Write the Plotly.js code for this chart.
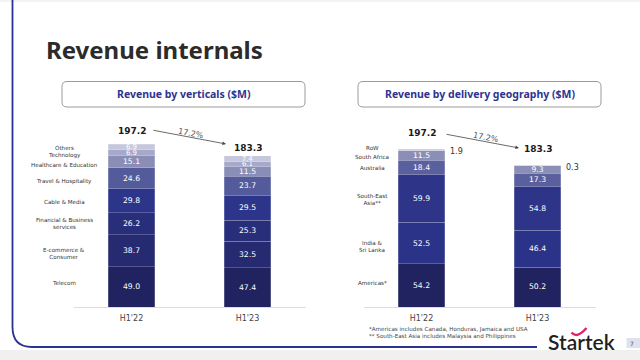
<!DOCTYPE html>
<html><head><meta charset="utf-8">
<script src="https://cdn.plot.ly/plotly-3.0.1.min.js"></script>
<style>html,body{margin:0;padding:0;background:#fff}#chart{width:640px;height:360px}</style>
</head><body><div id="chart"></div>
<script>
// ---- data ----
const categories = ["H1'22", "H1'23"];

const verticalNames = ["Telecom", "E-commerce &<br>Consumer", "Financial & Business<br>services", "Cable & Media", "Travel & Hospitality", "Healthcare & Education", "Technology", "Others"];
const telecom = [49.0, 47.4];
const ecommerce = [38.7, 32.5];
const financial = [26.2, 25.3];
const cableMedia = [29.8, 29.5];
const travel = [24.6, 23.7];
const healthcare = [15.1, 11.5];
const technology = [6.9, 6.1];
const others = [6.9, 7.4];
const verticalTotals = [197.2, 183.3];

const geoNames = ["Americas*", "India &<br>Sri Lanka", "South-East<br>Asia**", "Australia", "South Africa", "RoW"];
const americas = [54.2, 50.2];
const indiaSriLanka = [52.5, 46.4];
const southEastAsia = [59.9, 54.8];
const australia = [18.4, 17.3];
const southAfrica = [11.5, 9.3];
const row = [1.9, 0.3];
const geoTotals = [197.2, 183.3];

const changeLabel = "17.2%";

// ---- styling ----
const W = 640, H = 360;
const px = x => x / W, py = y => 1 - y / H;
const vertColors = ["#20235f", "#262a70", "#292e7b", "#2d358b", "#545b9b", "#8a8db6", "#a6a9c9", "#c5c7dc"];
const geoColors = ["#20235f", "#2b3389", "#2e3588", "#5a5f9e", "#8b8fb5", "#c5c7dc"];
const lblFont = {family: "DejaVu Sans", size: 5.6, color: "#333"};

const vertSeries = [telecom, ecommerce, financial, cableMedia, travel, healthcare, technology, others];
const geoSeries = [americas, indiaSriLanka, southEastAsia, australia, southAfrica, row];

const traces = [];
vertSeries.forEach((s, i) => traces.push({
  type: "bar", x: categories, y: s, xaxis: "x", yaxis: "y",
  marker: {color: vertColors[i], line: {width: 0.6, color: "rgba(255,255,255,0.35)"}},
  text: s.map(v => v.toFixed(1)), textposition: "inside", insidetextanchor: "middle",
  textangle: 0, textfont: {family: "DejaVu Sans", size: i >= 6 ? 7 : 8, color: "#ffffff"}, hoverinfo: "skip"
}));
geoSeries.forEach((s, i) => {
  const isRow = i === geoSeries.length - 1;
  traces.push({
    type: "bar", x: categories, y: s, xaxis: "x2", yaxis: "y2",
    marker: {color: geoColors[i], line: {width: 0.6, color: "rgba(255,255,255,0.35)"}},
    text: isRow ? s.map(() => "") : s.map(v => v.toFixed(1)), textposition: "inside", insidetextanchor: "middle",
    textangle: 0, textfont: {family: "DejaVu Sans", size: 8, color: "#ffffff"}, hoverinfo: "skip"
  });
});

const ann = [];
// title
ann.push({text: "<b>Revenue internals</b>", xref: "paper", yref: "paper", x: px(44), y: py(50), xanchor: "left", yanchor: "middle",
  showarrow: false, font: {family: "Noto Sans", size: 24, color: "#2b2b2b"}});
ann.push({text: "<b>Revenue by verticals ($M)</b>", xref: "paper", yref: "paper", x: px(184), y: py(94), xanchor: "center", yanchor: "middle",
  showarrow: false, font: {family: "Noto Sans", size: 10.5, color: "#2d3491"}});
ann.push({text: "<b>Revenue by delivery geography ($M)</b>", xref: "paper", yref: "paper", x: px(480), y: py(94), xanchor: "center", yanchor: "middle",
  showarrow: false, font: {family: "Noto Sans", size: 10.5, color: "#2d3491"}});

// segment name labels (at H1'22 segment centres)
function nameLabels(series, names, yref, xpx, shifts) {
  let cum = 0;
  series.forEach((s, i) => {
    const mid = cum + s[0] / 2; cum += s[0];
    ann.push({text: names[i], xref: "paper", yref: yref, x: px(xpx), y: mid, yshift: shifts[i] || 0,
      xanchor: "center", yanchor: "middle", showarrow: false, font: lblFont});
  });
}
nameLabels(vertSeries, verticalNames, "y", 64, [4, -3, 0, -1, -3, -3, -3, -1]);
nameLabels(geoSeries, geoNames, "y2", 372, [2, -3, -1, -1, -1, 2]);

// totals
const totFont = {family: "DejaVu Sans", size: 9, color: "#1a1a1a"};
ann.push({text: "<b>" + verticalTotals[0].toFixed(1) + "</b>", xref: "x", yref: "y", x: categories[0], y: verticalTotals[0], yanchor: "bottom", yshift: 6, showarrow: false, font: totFont});
ann.push({text: "<b>" + verticalTotals[1].toFixed(1) + "</b>", xref: "x", yref: "y", x: categories[1], y: verticalTotals[1], yanchor: "bottom", yshift: 1, showarrow: false, font: totFont});
ann.push({text: "<b>" + geoTotals[0].toFixed(1) + "</b>", xref: "x2", yref: "y2", x: categories[0], y: geoTotals[0], yanchor: "bottom", yshift: 10, showarrow: false, font: totFont});
ann.push({text: "<b>" + geoTotals[1].toFixed(1) + "</b>", xref: "x2", yref: "y2", x: categories[1], y: geoTotals[1], yanchor: "bottom", yshift: 5, showarrow: false, font: totFont});

// RoW outside labels
const geoSum = k => geoSeries.reduce((a, s) => a + s[k], 0);
[0, 1].forEach(k => ann.push({text: row[k].toFixed(1), xref: "x2", yref: "y2", x: categories[k], y: geoSum(k), xanchor: "left", yanchor: "middle",
  xshift: 26, yshift: -2, showarrow: false, font: {family: "DejaVu Sans", size: 8, color: "#333"}}));

// change arrows
[[226, 144, 152, 130, 191, 133], [519, 148, 445, 134, 486, 137]].forEach(a => {
  ann.push({xref: "paper", yref: "paper", x: px(a[0]), y: py(a[1]), ax: a[2] - a[0], ay: a[3] - a[1], axref: "pixel", ayref: "pixel",
    text: "", showarrow: true, arrowhead: 2, arrowsize: 0.9, arrowwidth: 0.8, arrowcolor: "#444"});
  ann.push({xref: "paper", yref: "paper", x: px(a[4]), y: py(a[5]), text: changeLabel, textangle: 11, showarrow: false,
    xanchor: "center", yanchor: "middle", font: {family: "DejaVu Sans", size: 8, color: "#555"}});
});

// footnotes
ann.push({text: "*Americas includes Canada, Honduras, Jamaica and USA<br>** South-East Asia includes Malaysia and Philippines", xref: "paper", yref: "paper",
  x: px(367), y: py(333), xanchor: "left", yanchor: "middle", align: "left", showarrow: false, font: {family: "DejaVu Sans", size: 5.6, color: "#444"}});
// logo
ann.push({text: "Startek", xref: "paper", yref: "paper", x: px(581), y: py(341), xanchor: "center", yanchor: "middle",
  showarrow: false, font: {family: "Lato", size: 21, color: "#1f1f1f", weight: 600}});
ann.push({text: "7", xref: "paper", yref: "paper", x: px(632), y: py(343), xanchor: "center", yanchor: "middle",
  showarrow: false, font: {family: "DejaVu Sans", size: 6, color: "#555"}});

function rrect(x0, y0, x1, y1, r) {
  const X = v => px(v), Y = v => py(v);
  return `M ${X(x0 + r)},${Y(y0)} L ${X(x1 - r)},${Y(y0)} Q ${X(x1)},${Y(y0)} ${X(x1)},${Y(y0 + r)} L ${X(x1)},${Y(y1 - r)} Q ${X(x1)},${Y(y1)} ${X(x1 - r)},${Y(y1)} L ${X(x0 + r)},${Y(y1)} Q ${X(x0)},${Y(y1)} ${X(x0)},${Y(y1 - r)} L ${X(x0)},${Y(y0 + r)} Q ${X(x0)},${Y(y0)} ${X(x0 + r)},${Y(y0)} Z`;
}
const shapes = [
  {type: "rect", xref: "paper", yref: "paper", x0: 0, x1: 1, y0: py(360), y1: py(350), fillcolor: "#f0f0f0", line: {width: 0}, layer: "below"},
  {type: "rect", xref: "paper", yref: "paper", x0: 0, x1: 1, y0: py(2), y1: py(0), fillcolor: "#f3f3f3", line: {width: 0}, layer: "below"},
  {type: "path", xref: "paper", yref: "paper", path: `M ${px(12.5)},${py(0)} L ${px(12.5)},${py(327)} Q ${px(12.5)},${py(347)} ${px(32)},${py(347)} L ${px(537)},${py(347)}`,
    line: {color: "#2b3390", width: 1.8}},
  {type: "path", xref: "paper", yref: "paper", path: rrect(62, 81.5, 305, 107, 5), line: {color: "#9a9a9a", width: 1}},
  {type: "path", xref: "paper", yref: "paper", path: rrect(358, 81.5, 601, 107, 5), line: {color: "#9a9a9a", width: 1}},
  {type: "path", xref: "paper", yref: "paper", path: `M ${px(571.5)},${py(332.5)} Q ${px(577)},${py(339)} ${px(586.5)},${py(328)}`, line: {color: "#e0216e", width: 2.4}},
  {type: "rect", xref: "paper", yref: "paper", x0: px(626.5), x1: px(640), y0: py(348), y1: py(338), fillcolor: "#dde2ee", line: {width: 0}}
];

const xCommon = {type: "category", showgrid: false, zeroline: false, showline: true, linecolor: "#dddddd", linewidth: 1, ticks: "",
  tickfont: {family: "DejaVu Sans", size: 8, color: "#444"}, ticklabelstandoff: 3, fixedrange: true};
const yCommon = {visible: false, showgrid: false, zeroline: false, fixedrange: true};
const layout = {
  width: W, height: H, margin: {l: 0, r: 0, t: 0, b: 0}, paper_bgcolor: "#ffffff", plot_bgcolor: "rgba(0,0,0,0)",
  showlegend: false, barmode: "stack", bargap: 0.595, hovermode: false,
  uniformtext: {mode: "show", minsize: 7},
  xaxis: Object.assign({}, xCommon, {domain: [px(73.5), px(305.5)], anchor: "y"}),
  xaxis2: Object.assign({}, xCommon, {domain: [px(363.5), px(595.5)], anchor: "y2"}),
  yaxis: Object.assign({}, yCommon, {domain: [py(307), py(120)], range: [0, 187 / 0.826], anchor: "x"}),
  yaxis2: Object.assign({}, yCommon, {domain: [py(307), py(120)], range: [0, 187 / 0.794], anchor: "x2"}),
  annotations: ann, shapes: shapes
};
Plotly.newPlot("chart", traces, layout, {staticPlot: true, displayModeBar: false});
</script></body></html>
